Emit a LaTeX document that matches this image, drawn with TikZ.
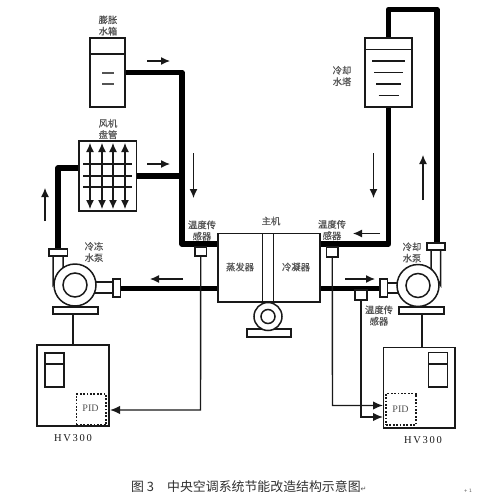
\documentclass[tikz,border=0pt]{standalone}
\usepackage{fontspec}
\setmainfont{Liberation Serif}
\newfontfamily\cjk{Noto Sans CJK SC}[FakeBold=0.6]
\newfontfamily\capf{Noto Sans CJK SC}
\newfontfamily\sym{DejaVu Sans}
\usetikzlibrary{arrows.meta}
\definecolor{ink}{gray}{0.1}
\definecolor{lab}{gray}{0.33}
\tikzset{
  x=1pt,y=-1pt,
  unit/.style={draw=ink,line width=1.5pt,fill=white,inner sep=0pt,outer sep=0pt},
  pipe/.style={draw=black,line width=5.6pt,line join=round},
  thin line/.style={draw=ink,line width=1.4pt},
  flow/.style={draw=ink,line width=1.2pt,-{Latex[length=9pt,width=8pt]}},
  sig/.style={draw=ink,line width=1.4pt,-{Latex[length=10pt,width=8.5pt]}},
  lbl/.style={text=lab,inner sep=0pt,font=\cjk\fontsize{9.3}{11.4}\selectfont,align=center},
  pidbox/.style={draw=ink,line width=1.9pt,dash pattern=on 1.8pt off 1.6pt,inner sep=0pt},
  hv/.style={text=lab,inner sep=0pt,font=\fontsize{10}{12}\selectfont},
}
\newcommand{\bx}[6][unit]{\node[#1,minimum width=#5pt-#3pt,minimum height=#6pt-#4pt] (#2) at ({(#3+#5)/2},{(#4+#6)/2}) {};}
\begin{document}
\begin{tikzpicture}
\useasboundingbox (0,0) rectangle (477,499);
% named bends and pipe ends
\coordinate (bendA) at (182,72.5);
\coordinate (bendB) at (182,244);
\coordinate (joinA) at (182,176);
\coordinate (coilL) at (79,168);
\coordinate (bendC) at (58,168);
\coordinate (twIn) at (388.5,38);
\coordinate (bendD) at (388.5,9.5);
\coordinate (bendE) at (437,9.5);
\coordinate (bendF) at (388.5,244);
\coordinate (mainLT) at (218,244);
\coordinate (mainRT) at (320,244);
\coordinate (mainLB) at (218,288.5);
\coordinate (mainRB) at (320,288.5);
% pipes
\draw[pipe] (125,72.5) -- (bendA) -- (bendB) -- (mainLT);
\draw[pipe] (136.5,176) -- (joinA);
\draw[pipe] (coilL) -- (bendC) -- (58,250);
\draw[pipe] (twIn) -- (bendD) -- (bendE) -- (437,244);
\draw[pipe] (388.5,107) -- (bendF) -- (mainRT);
\draw[pipe] (120,288.5) -- (mainLB);
\draw[pipe] (mainRB) -- (380,288.5);
% expansion tank
\bx{tank}{90}{38}{125}{107}
\draw[thin line] (90,54) -- (125,54);
\draw[thin line,draw=lab] (102,73) -- (114,73) (102,84) -- (114,84);
\node[lbl] (tankT) at (108,25.5) {膨胀\\水箱};
% coil
\bx{coil}{79}{141}{136.5}{211}
\foreach \y in {164,176,187} \draw[thin line] (83,\y) -- (132,\y);
\foreach \x in {90,102,113,125}
  \draw[draw=ink,line width=1.2pt,{Latex[length=9pt,width=8pt]}-{Latex[length=9pt,width=8pt]}] (\x,143) -- (\x,209);
\node[lbl] (coilT) at (108,129) {风机\\盘管};
% tower
\bx{tower}{365}{38}{412}{107}
\draw[thin line] (365,49.5) -- (412,49.5);
\draw[thin line] (372,61) -- (405,61) (374,72.5) -- (403,72.5) (376,84) -- (401,84) (378.5,95.5) -- (398.5,95.5);
\node[lbl] (towerT) at (342,76) {冷却\\水塔};
% main unit
\bx{main}{218}{233.5}{320}{302}
\draw[thin line] (262.5,233.5) -- (262.5,302) (273.5,233.5) -- (273.5,302);
\node[lbl] (mainT) at (271,221) {主机};
\node[lbl] (evap) at (240,267) {蒸发器};
\node[lbl] (cond) at (296,267) {冷凝器};
\bx{cbase}{247}{329}{291}{337}
\node[unit,circle,minimum size=28pt] (comp) at (268,316.5) {};
\node[unit,circle,minimum size=14pt] (compI) at (268,316.5) {};
% sensors
\bx{sL}{195}{247}{206.5}{256}
\bx{sR}{326.5}{247}{338}{257}
\bx{sB}{355}{290}{367}{300}
\node[lbl] (sLT) at (202,230.5) {温度传\\感器};
\node[lbl] (sRT) at (332,230) {温度传\\感器};
\node[lbl] (sBT) at (379,315.5) {温度传\\感器};
% chilled pump
\draw[unit] (53,255) -- (53,285) -- (63,270) -- (63,255) -- cycle;
\draw[unit] (92,282) rectangle (114,293);
\node[unit,circle,minimum size=42pt] (pumpL) at (75,285) {};
\node[unit,circle,minimum size=24pt] (pumpLi) at (75,285) {};
\bx{fLt}{49}{249}{67.5}{256}
\bx{fLr}{113}{279}{120.5}{297}
\bx{bL}{53}{307}{98}{314}
\node[lbl] (pumpLT) at (94,252) {冷冻\\水泵};
% cooling pump
\draw[unit] (431,250) -- (431,268) -- (440.5,285) -- (440.5,250) -- cycle;
\draw[unit] (387,283) rectangle (400,293);
\node[unit,circle,minimum size=42pt] (pumpR) at (418,285.5) {};
\node[unit,circle,minimum size=24pt] (pumpRi) at (418,285.5) {};
\bx{fRt}{427}{243}{445}{250}
\bx{fRl}{380}{279}{387.5}{297}
\bx{bR}{399}{307}{444}{314}
\node[lbl] (pumpRT) at (412,252.5) {冷却\\水泵};
% inverters
\bx{hvL}{37}{345}{109}{426}
\bx{dL}{45}{353}{64}{387}
\draw[thin line] (dL.west |- 0,364) -- (dL.east |- 0,364);
\bx[pidbox]{pidL}{76.5}{394}{106}{425}
\node[hv] (pidLT) at (90.5,408) {PID};
\node[hv,font=\fontsize{10.5}{12}\selectfont,text=ink] (hvLT) at (73,438) {H\,V\,3\,0\,0};
\bx{hvR}{383.5}{347.5}{455}{428}
\bx{dR}{428.5}{352.5}{447.5}{387}
\draw[thin line] (dR.west |- 0,364) -- (dR.east |- 0,364);
\bx[pidbox]{pidR}{386}{393.5}{416}{425}
\node[hv] (pidRT) at (400.5,409) {PID};
\node[hv,font=\fontsize{10.5}{12}\selectfont,text=ink] (hvRT) at (423,440) {H\,V\,3\,0\,0};
% links
\draw[thin line] (bL.south -| hvL.north) -- (hvL.north);
\draw[thin line] (422,314) -- (422,347.5);
\coordinate (c1) at (200.5,410);
\coordinate (c2) at (332.5,405.5);
\coordinate (c3) at (361,417);
\coordinate (t1) at (110,410);
\coordinate (t2) at (383,405.5);
\coordinate (t3) at (383,417);
\draw[sig] (sL.south) -- (c1) -- (t1);
\draw[sig] (sR.south) -- (c2) -- (t2);
\draw[sig] (sB.south) -- (c3) -- (t3);
% flow arrows
\coordinate (a1s) at (147,61); \coordinate (a1e) at (170,61);
\coordinate (a2s) at (147,164); \coordinate (a2e) at (170,164);
\coordinate (a3s) at (193.5,153); \coordinate (a3e) at (193.5,198);
\coordinate (a4s) at (45,221); \coordinate (a4e) at (45,188);
\coordinate (a5s) at (183,279); \coordinate (a5e) at (150,279);
\coordinate (a6s) at (373.5,153); \coordinate (a6e) at (373.5,198);
\coordinate (a7s) at (423,200); \coordinate (a7e) at (423,155);
\coordinate (a8s) at (380,233.5); \coordinate (a8e) at (353,233.5);
\coordinate (a9s) at (345,279); \coordinate (a9e) at (375,279);
\foreach \n in {1,...,9} \draw[flow] (a\n s) -- (a\n e);
% caption
\node[inner sep=0pt,anchor=west,text=ink!90] (capA) at (131,487) {\capf\fontsize{12.9}{14}\selectfont 图 3};
\node[inner sep=0pt,anchor=west,text=ink!90] (capB) at (167,487) {\capf\fontsize{12.9}{14}\selectfont 中央空调系统节能改造结构示意图\textcolor{lab}{\sym\fontsize{7}{8}\selectfont ↵}};
\node[inner sep=0pt,text=lab] (mark) at (468,491) {\sym\fontsize{4.5}{5}\selectfont + 1};
\end{tikzpicture}
\end{document}
